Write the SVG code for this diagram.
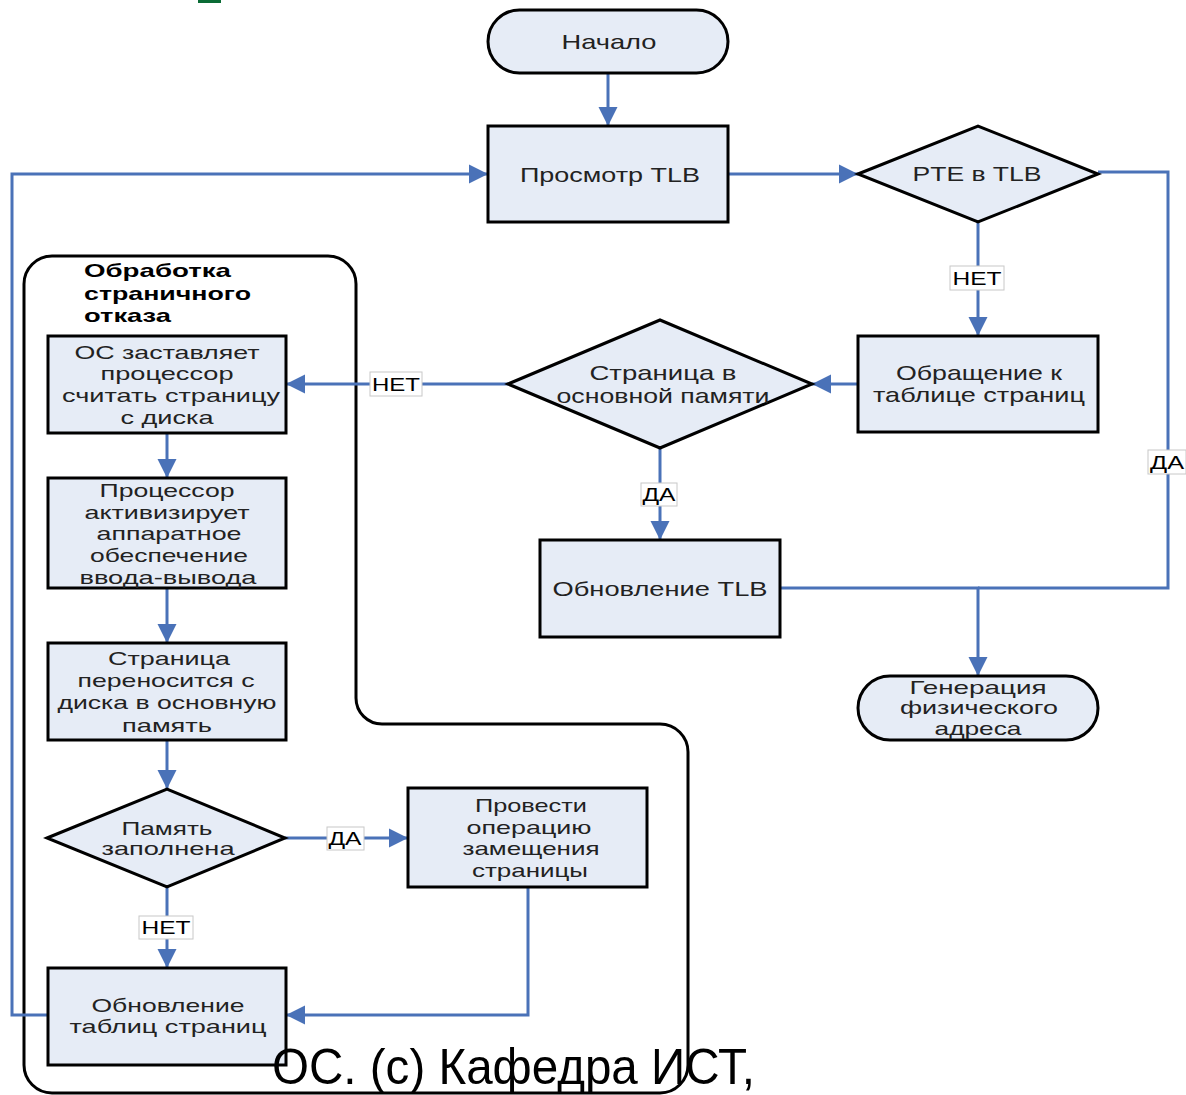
<svg xmlns="http://www.w3.org/2000/svg" width="1186" height="1095" viewBox="0 0 1186 1095">
<style>
.node{fill:#E6ECF6;stroke:#000;stroke-width:3}
.t{font-family:"Liberation Sans",Arial,sans-serif;font-size:19px;fill:#222;text-anchor:middle;dominant-baseline:central}
.tb{font-size:21px}
.title{font-family:"Liberation Sans",Arial,sans-serif;font-size:19px;font-weight:bold;fill:#000;dominant-baseline:central}
.c{fill:none;stroke:#4A72B8;stroke-width:3}
.lb{fill:#fff;stroke:#c8c8c8;stroke-width:1}
.lt{font-family:"Liberation Sans",Arial,sans-serif;font-size:19px;fill:#000;text-anchor:middle;dominant-baseline:central}
</style>
<defs>
<marker id="ah" viewBox="0 0 10 10" refX="10" refY="5" markerWidth="19" markerHeight="21" markerUnits="userSpaceOnUse" orient="auto">
<path d="M0,0 L10,5 L0,10 z" fill="#4A72B8"/>
</marker>
</defs>
<rect width="1186" height="1095" fill="#fff"/>
<rect x="198" y="0" width="23" height="3" fill="#0A6B35"/>

<g id="container">
<path d="M52,256 H328 A28,28 0 0 1 356,284 V698 A26,26 0 0 0 382,724 H660 A28,28 0 0 1 688,752 V1065 A28,28 0 0 1 660,1093 H52 A28,28 0 0 1 24,1065 V284 A28,28 0 0 1 52,256 Z" fill="none" stroke="#000" stroke-width="3"/>
<text class="title" x="84" y="270" textLength="147" lengthAdjust="spacingAndGlyphs">Обработка</text>
<text class="title" x="84" y="293" textLength="167" lengthAdjust="spacingAndGlyphs">страничного</text>
<text class="title" x="84" y="315" textLength="87" lengthAdjust="spacingAndGlyphs">отказа</text>
</g>

<g id="connectors">
<path class="c" d="M608,73 V126" marker-end="url(#ah)"/>
<path class="c" d="M728,174 H858" marker-end="url(#ah)"/>
<path class="c" d="M978,222 V336" marker-end="url(#ah)"/>
<path class="c" d="M858,384 H812" marker-end="url(#ah)"/>
<path class="c" d="M508,384 H286" marker-end="url(#ah)"/>
<path class="c" d="M660,448 V540" marker-end="url(#ah)"/>
<path class="c" d="M1098,172 H1168 V588 H978"/>
<path class="c" d="M780,588 H978 V676" marker-end="url(#ah)"/>
<path class="c" d="M167,433 V478" marker-end="url(#ah)"/>
<path class="c" d="M167,588 V643" marker-end="url(#ah)"/>
<path class="c" d="M167,740 V789" marker-end="url(#ah)"/>
<path class="c" d="M285,838 H408" marker-end="url(#ah)"/>
<path class="c" d="M167,887 V968" marker-end="url(#ah)"/>
<path class="c" d="M528,887 V1015 H286" marker-end="url(#ah)"/>
<path class="c" d="M48,1015 H12 V174 H488" marker-end="url(#ah)"/>
<rect class="lb" x="950" y="266" width="54" height="24"/><text class="lt" x="977" y="278" textLength="49" lengthAdjust="spacingAndGlyphs">НЕТ</text>
<rect class="lb" x="370" y="372" width="52" height="24"/><text class="lt" x="396" y="384" textLength="48" lengthAdjust="spacingAndGlyphs">НЕТ</text>
<rect class="lb" x="641" y="483" width="36" height="23"/><text class="lt" x="659" y="494" textLength="33" lengthAdjust="spacingAndGlyphs">ДА</text>
<rect class="lb" x="1148" y="450" width="38" height="24"/><text class="lt" x="1167" y="462" textLength="34" lengthAdjust="spacingAndGlyphs">ДА</text>
<rect class="lb" x="327" y="827" width="37" height="23"/><text class="lt" x="345" y="838" textLength="33" lengthAdjust="spacingAndGlyphs">ДА</text>
<rect class="lb" x="139" y="916" width="54" height="23"/><text class="lt" x="166" y="927" textLength="49" lengthAdjust="spacingAndGlyphs">НЕТ</text>
</g>

<g id="start">
<rect class="node" x="488" y="10" width="240" height="63" rx="31.5"/>
<text class="t tb" x="609" y="41" textLength="95" lengthAdjust="spacingAndGlyphs">Начало</text>
</g>
<g id="tlb-lookup">
<rect class="node" x="488" y="126" width="240" height="96"/>
<text class="t tb" x="610" y="174" textLength="180" lengthAdjust="spacingAndGlyphs">Просмотр TLB</text>
</g>
<g id="pte-in-tlb">
<polygon class="node" points="858,174 978,126 1098,174 978,222"/>
<text class="t tb" x="977" y="173" textLength="129" lengthAdjust="spacingAndGlyphs">PTE в TLB</text>
</g>
<g id="page-table-access">
<rect class="node" x="858" y="336" width="240" height="96"/>
<text class="t tb" x="979" y="372" textLength="166" lengthAdjust="spacingAndGlyphs">Обращение к</text>
<text class="t tb" x="979" y="394" textLength="212" lengthAdjust="spacingAndGlyphs">таблице страниц</text>
</g>
<g id="page-in-memory">
<polygon class="node" points="508,384 660,320 812,384 660,448"/>
<text class="t tb" x="663" y="372" textLength="147" lengthAdjust="spacingAndGlyphs">Страница в</text>
<text class="t tb" x="663" y="395" textLength="213" lengthAdjust="spacingAndGlyphs">основной памяти</text>
</g>
<g id="tlb-update">
<rect class="node" x="540" y="540" width="240" height="97"/>
<text class="t tb" x="660" y="588" textLength="215" lengthAdjust="spacingAndGlyphs">Обновление TLB</text>
</g>
<g id="phys-address">
<rect class="node" x="858" y="676" width="240" height="64" rx="32"/>
<text class="t" x="978" y="687" textLength="137" lengthAdjust="spacingAndGlyphs">Генерация</text>
<text class="t" x="979" y="707" textLength="158" lengthAdjust="spacingAndGlyphs">физического</text>
<text class="t" x="978" y="728" textLength="87" lengthAdjust="spacingAndGlyphs">адреса</text>
</g>
<g id="os-read">
<rect class="node" x="48" y="336" width="238" height="97"/>
<text class="t" x="167" y="352" textLength="185" lengthAdjust="spacingAndGlyphs">ОС заставляет</text>
<text class="t" x="167" y="373" textLength="133" lengthAdjust="spacingAndGlyphs">процессор</text>
<text class="t" x="171" y="395" textLength="218" lengthAdjust="spacingAndGlyphs">считать страницу</text>
<text class="t" x="167" y="417" textLength="93" lengthAdjust="spacingAndGlyphs">с диска</text>
</g>
<g id="cpu-io">
<rect class="node" x="48" y="478" width="238" height="110"/>
<text class="t" x="167" y="490" textLength="135" lengthAdjust="spacingAndGlyphs">Процессор</text>
<text class="t" x="167" y="512" textLength="165" lengthAdjust="spacingAndGlyphs">активизирует</text>
<text class="t" x="169" y="533" textLength="145" lengthAdjust="spacingAndGlyphs">аппаратное</text>
<text class="t" x="169" y="555" textLength="158" lengthAdjust="spacingAndGlyphs">обеспечение</text>
<text class="t" x="168" y="577" textLength="177" lengthAdjust="spacingAndGlyphs">ввода-вывода</text>
</g>
<g id="page-transfer">
<rect class="node" x="48" y="643" width="238" height="97"/>
<text class="t" x="169" y="658" textLength="122" lengthAdjust="spacingAndGlyphs">Страница</text>
<text class="t" x="166" y="680" textLength="177" lengthAdjust="spacingAndGlyphs">переносится с</text>
<text class="t" x="167" y="702" textLength="219" lengthAdjust="spacingAndGlyphs">диска в основную</text>
<text class="t" x="167" y="725" textLength="90" lengthAdjust="spacingAndGlyphs">память</text>
</g>
<g id="memory-full">
<polygon class="node" points="47,838 167,789 285,838 167,887"/>
<text class="t" x="167" y="828" textLength="91" lengthAdjust="spacingAndGlyphs">Память</text>
<text class="t" x="168" y="848" textLength="133" lengthAdjust="spacingAndGlyphs">заполнена</text>
</g>
<g id="replace-page">
<rect class="node" x="408" y="788" width="239" height="99"/>
<text class="t" x="531" y="805" textLength="112" lengthAdjust="spacingAndGlyphs">Провести</text>
<text class="t" x="529" y="827" textLength="125" lengthAdjust="spacingAndGlyphs">операцию</text>
<text class="t" x="531" y="848" textLength="137" lengthAdjust="spacingAndGlyphs">замещения</text>
<text class="t" x="530" y="870" textLength="116" lengthAdjust="spacingAndGlyphs">страницы</text>
</g>
<g id="page-table-update">
<rect class="node" x="48" y="968" width="238" height="97"/>
<text class="t" x="168" y="1005" textLength="153" lengthAdjust="spacingAndGlyphs">Обновление</text>
<text class="t" x="168" y="1026" textLength="197" lengthAdjust="spacingAndGlyphs">таблиц страниц</text>
</g>
<text x="272" y="1084" font-family="'Liberation Sans',Arial,sans-serif" font-size="50" fill="#000" textLength="483" lengthAdjust="spacingAndGlyphs">ОС. (с) Кафедра ИСТ,</text>
</svg>
